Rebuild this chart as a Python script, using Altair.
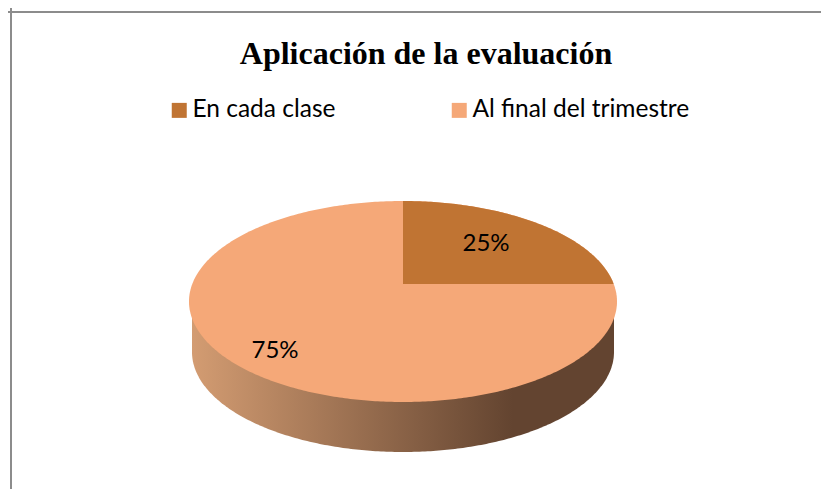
import numpy as np
import pandas as pd
import altair as alt

TITLE = "Aplicación de la evaluación"
SLICES = ["En cada clase", "Al final del trimestre"]
SHARES = [25, 75]
COLOURS = ["#C07433", "#F5A878"]
LABEL_X = [486, 275]
LABEL_Y = [244, 351]

W, H = 813, 481
x_scale = alt.Scale(domain=[8, 821], range=[0, W], nice=False, zero=False)
y_scale = alt.Scale(domain=[489, 8], range=[H, 0], nice=False, zero=False)
X = lambda f: alt.X(f, type="quantitative", scale=x_scale, axis=None)
Y = lambda f: alt.Y(f, type="quantitative", scale=y_scale, axis=None)

# Tilted disc geometry of the pie
CX, CY, RX, RY = 403.0, 301.5, 214.0, 100.5
APEX_Y = 284.0
SIDE_CY, SIDE_RX, SIDE_RY = 352.0, 211.0, 100.0

t = np.linspace(0, np.pi, 241)


def half(cx, cy, rx, ry):
    x = cx - rx * np.cos(t)
    d = ry * np.sin(t)
    return x, cy - d, cy + d


sx, _, s_low = half(CX, SIDE_CY, SIDE_RX, SIDE_RY)
side_df = pd.DataFrame({"x": sx, "y": s_low, "y2": CY})

fx, f_up, f_low = half(CX, CY, RX, RY)
face_df = pd.DataFrame({"x": fx, "y": f_up, "y2": f_low, "slice": SLICES[1]})

# The 25% slice: first quarter clockwise from twelve o'clock
mask = (fx >= CX) & (f_up <= APEX_Y)
wedge_df = pd.DataFrame({"x": fx[mask], "y": f_up[mask], "y2": APEX_Y, "slice": SLICES[0]})

side = (
    alt.Chart(side_df)
    .mark_area(
        orient="vertical",
        color=alt.Gradient(
            gradient="linear",
            x1=0, x2=1, y1=0, y2=0,
            stops=[
                alt.GradientStop(offset=0, color="#D39C72"),
                alt.GradientStop(offset=0.76, color="#634430"),
                alt.GradientStop(offset=1, color="#634430"),
            ],
        ),
    )
    .encode(x=X("x"), y=Y("y"), y2="y2")
)

colour = alt.Color(
    "slice:N",
    scale=alt.Scale(domain=SLICES, range=COLOURS),
    legend=alt.Legend(
        title=None,
        orient="none",
        legendX=159,
        legendY=90,
        direction="horizontal",
        columns=2,
        columnPadding=111,
        symbolType="square",
        symbolSize=225,
        symbolStrokeWidth=0,
        labelFont="Lato",
        labelFontSize=24.5,
        labelColor="#000000",
        labelOffset=1,
        labelLimit=400,
    ),
)

face = alt.Chart(face_df).mark_area(orient="vertical").encode(x=X("x"), y=Y("y"), y2="y2", color=colour)
wedge = alt.Chart(wedge_df).mark_area(orient="vertical").encode(x=X("x"), y=Y("y"), y2="y2", color=colour)

labels_df = pd.DataFrame(
    {"x": LABEL_X, "y": LABEL_Y, "label": [f"{s}%" for s in SHARES]}
)
labels = (
    alt.Chart(labels_df)
    .mark_text(font="Lato", fontSize=24, color="#000000", align="center", baseline="middle")
    .encode(x=X("x"), y=Y("y"), text="label:N")
)

frame_v = alt.Chart(pd.DataFrame({"x": [11]})).mark_rule(color="#8C8C8C", strokeWidth=2).encode(x=X("x"))
frame_h = alt.Chart(pd.DataFrame({"y": [12]})).mark_rule(color="#8C8C8C", strokeWidth=2).encode(y=Y("y"))

chart = (
    alt.layer(frame_v, frame_h, side, face, wedge, labels)
    .properties(
        width=W,
        height=H,
        padding=0,
        autosize=alt.AutoSizeParams(type="none"),
        title=alt.TitleParams(
            TITLE,
            font="Liberation Serif",
            fontSize=32,
            fontWeight="bold",
            color="#000000",
            anchor="middle",
            frame="group",
            dx=11.5,
            dy=68,
        ),
    )
    .configure_view(stroke=None)
)

chart.save("out.html", embed_options={"renderer": "svg", "actions": False})
